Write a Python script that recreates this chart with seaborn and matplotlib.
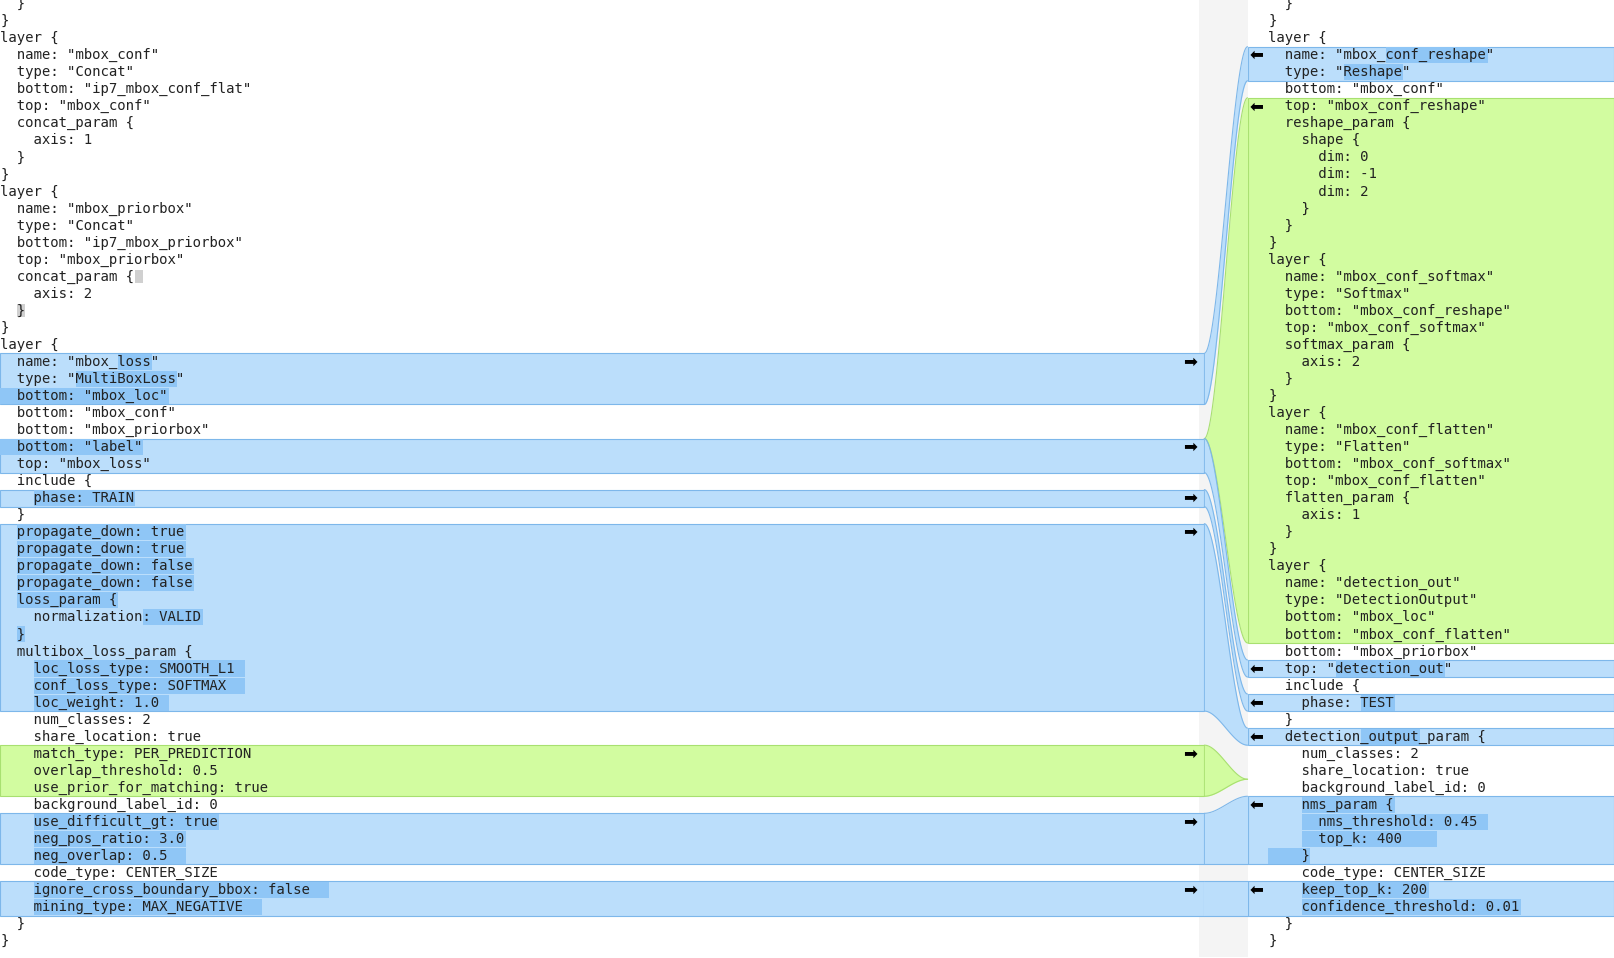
import numpy as np
import matplotlib
matplotlib.use("Agg")
import matplotlib.pyplot as plt
import seaborn as sns

left_lines = ['  }', '}', 'layer {', '  name: "mbox_conf"', '  type: "Concat"', '  bottom: "ip7_mbox_conf_flat"',
 '  top: "mbox_conf"', '  concat_param {', '    axis: 1', '  }', '}', 'layer {', '  name: "mbox_priorbox"',
 '  type: "Concat"', '  bottom: "ip7_mbox_priorbox"', '  top: "mbox_priorbox"', '  concat_param {', '    axis: 2',
 '  }', '}', 'layer {', '  name: "mbox_loss"', '  type: "MultiBoxLoss"', '  bottom: "mbox_loc"', '  bottom: "mbox_conf"',
 '  bottom: "mbox_priorbox"', '  bottom: "label"', '  top: "mbox_loss"', '  include {', '    phase: TRAIN', '  }',
 '  propagate_down: true', '  propagate_down: true', '  propagate_down: false', '  propagate_down: false',
 '  loss_param {', '    normalization: VALID', '  }', '  multibox_loss_param {', '    loc_loss_type: SMOOTH_L1',
 '    conf_loss_type: SOFTMAX', '    loc_weight: 1.0', '    num_classes: 2', '    share_location: true',
 '    match_type: PER_PREDICTION', '    overlap_threshold: 0.5', '    use_prior_for_matching: true',
 '    background_label_id: 0', '    use_difficult_gt: true', '    neg_pos_ratio: 3.0', '    neg_overlap: 0.5',
 '    code_type: CENTER_SIZE', '    ignore_cross_boundary_bbox: false', '    mining_type: MAX_NEGATIVE', '  }', '}']
right_lines = ['  }', '}', 'layer {', '  name: "mbox_conf_reshape"', '  type: "Reshape"', '  bottom: "mbox_conf"',
 '  top: "mbox_conf_reshape"', '  reshape_param {', '    shape {', '      dim: 0', '      dim: -1', '      dim: 2',
 '    }', '  }', '}', 'layer {', '  name: "mbox_conf_softmax"', '  type: "Softmax"', '  bottom: "mbox_conf_reshape"',
 '  top: "mbox_conf_softmax"', '  softmax_param {', '    axis: 2', '  }', '}', 'layer {', '  name: "mbox_conf_flatten"',
 '  type: "Flatten"', '  bottom: "mbox_conf_softmax"', '  top: "mbox_conf_flatten"', '  flatten_param {', '    axis: 1',
 '  }', '}', 'layer {', '  name: "detection_out"', '  type: "DetectionOutput"', '  bottom: "mbox_loc"',
 '  bottom: "mbox_conf_flatten"', '  bottom: "mbox_priorbox"', '  top: "detection_out"', '  include {', '    phase: TEST',
 '  }', '  detection_output_param {', '    num_classes: 2', '    share_location: true', '    background_label_id: 0',
 '    nms_param {', '      nms_threshold: 0.45', '      top_k: 400', '    }', '    code_type: CENTER_SIZE',
 '    keep_top_k: 200', '    confidence_threshold: 0.01', '  }', '}']

left_bands = [(21, 23, 'b'), (26, 27, 'b'), (29, 29, 'b'), (31, 41, 'b'), (44, 46, 'g'), (48, 50, 'b'), (52, 53, 'b')]
right_bands = [(3, 4, 'b'), (6, 37, 'g'), (39, 39, 'b'), (41, 41, 'b'), (43, 43, 'b'), (47, 50, 'b'), (52, 53, 'b')]
links = [((21, 23), (3, 4), 'b'), ((25.5, None), (6, 37), 'g'), ((26, 27), (39, 39), 'b'), ((29, 29), (41, 41), 'b'),
         ((31, 41), (43, 43), 'b'), ((44, 46), (45.5, None), 'g'), ((48, 50), (47, 50), 'b'), ((52, 53), (52, 53), 'b')]
left_inline = [(21, 14, 18), (22, 9, 21), (23, 0, 20), (26, 0, 17), (29, 4, 16), (31, 2, 22), (32, 2, 22), (33, 2, 23),
               (34, 2, 23), (35, 2, 14), (36, 17, 24), (37, 2, 3), (39, 4, 29), (40, 4, 29), (41, 4, 20),
               (48, 4, 26), (49, 4, 22), (50, 4, 22), (52, 4, 39), (53, 4, 31)]
right_inline = [(3, 14, 26), (4, 9, 16), (39, 8, 21), (41, 11, 15), (43, 11, 18), (47, 4, 15), (48, 4, 26),
                (49, 4, 20), (50, 0, 5), (52, 4, 19), (53, 4, 30)]
left_arrows = [21, 26, 29, 31, 44, 48, 52]
right_arrows = [3, 6, 39, 41, 43, 47, 52]

sns.set_theme(style="white")
plt.rcParams['font.family'] = ['DejaVu Sans Mono', 'DejaVu Sans']
fig = plt.figure(figsize=(16.14, 9.58), dpi=100)
ax = fig.add_axes([0, 0, 1, 1])
SC = 0.9715
ax.set_xlim(0, 1614 * SC); ax.set_ylim(958 * SC, 0); ax.axis('off')
FS = 9.8 / SC

LH, Y0, CW = 16.55, 4.0, 8.2
XL, XR, LEND, RSTART, REND = 0, 1232, 1170, 1212, 1568
col = {'b': '#bbdefb', 'g': '#d2fca0'}
edge = {'b': '#7db7ea', 'g': '#a8e070'}
inl = '#8fc6f6'

def top(k): return Y0 + LH * k - LH / 2
def bot(k): return Y0 + LH * k + LH / 2

ax.add_patch(plt.Rectangle((1165, 0), RSTART - 1165, 930, color='#f4f4f4', lw=0))

for a, b, c in left_bands:
    ax.add_patch(plt.Rectangle((0, top(a)), LEND, bot(b) - top(a), fc=col[c], ec=edge[c], lw=0.8))
for a, b, c in right_bands:
    ax.add_patch(plt.Rectangle((RSTART, top(a)), REND - RSTART, bot(b) - top(a), fc=col[c], ec=edge[c], lw=0.8))

xs = np.linspace(LEND, RSTART, 60)
s = (xs - LEND) / (RSTART - LEND); s = s * s * (3 - 2 * s)
for (la, lb), (ra, rb), c in links:
    lt, lbt = (top(la), bot(lb)) if lb is not None else (top(la + 0.5), top(la + 0.5))
    rt, rbt = (top(ra), bot(rb)) if rb is not None else (top(ra + 0.5), top(ra + 0.5))
    yt = lt + (rt - lt) * s; yb = lbt + (rbt - lbt) * s
    ax.fill_between(xs, yt, yb, color=col[c], lw=0)
    ax.plot(xs, yt, color=edge[c], lw=0.8); ax.plot(xs, yb, color=edge[c], lw=0.8)

for k, c0, c1 in left_inline:
    ax.add_patch(plt.Rectangle((XL + c0 * CW, top(k) + 0.5), (c1 - c0) * CW, LH - 1, color=inl, lw=0))
for k, c0, c1 in right_inline:
    ax.add_patch(plt.Rectangle((XR + c0 * CW, top(k) + 0.5), (c1 - c0) * CW, LH - 1, color=inl, lw=0))
ax.add_patch(plt.Rectangle((XL + 16 * CW, top(16) + 2), CW, LH - 4, color='#d0d0d0', lw=0))
ax.add_patch(plt.Rectangle((XL + 2 * CW, top(18) + 2), CW, LH - 4, color='#d0d0d0', lw=0))

for k, t in enumerate(left_lines):
    ax.text(XL, Y0 + LH * k, t, fontsize=FS, va='center', ha='left', color='#222222')
for k, t in enumerate(right_lines):
    ax.text(XR, Y0 + LH * k, t, fontsize=FS, va='center', ha='left', color='#222222')
for k in left_arrows:
    ax.text(1156, Y0 + LH * k, '➡', family='DejaVu Sans', fontsize=12, va='center', ha='center', color='black')
for k in right_arrows:
    ax.text(1221, Y0 + LH * k, '⬅', family='DejaVu Sans', fontsize=12, va='center', ha='center', color='black')

fig.savefig('out.png', dpi=100, facecolor='white')
